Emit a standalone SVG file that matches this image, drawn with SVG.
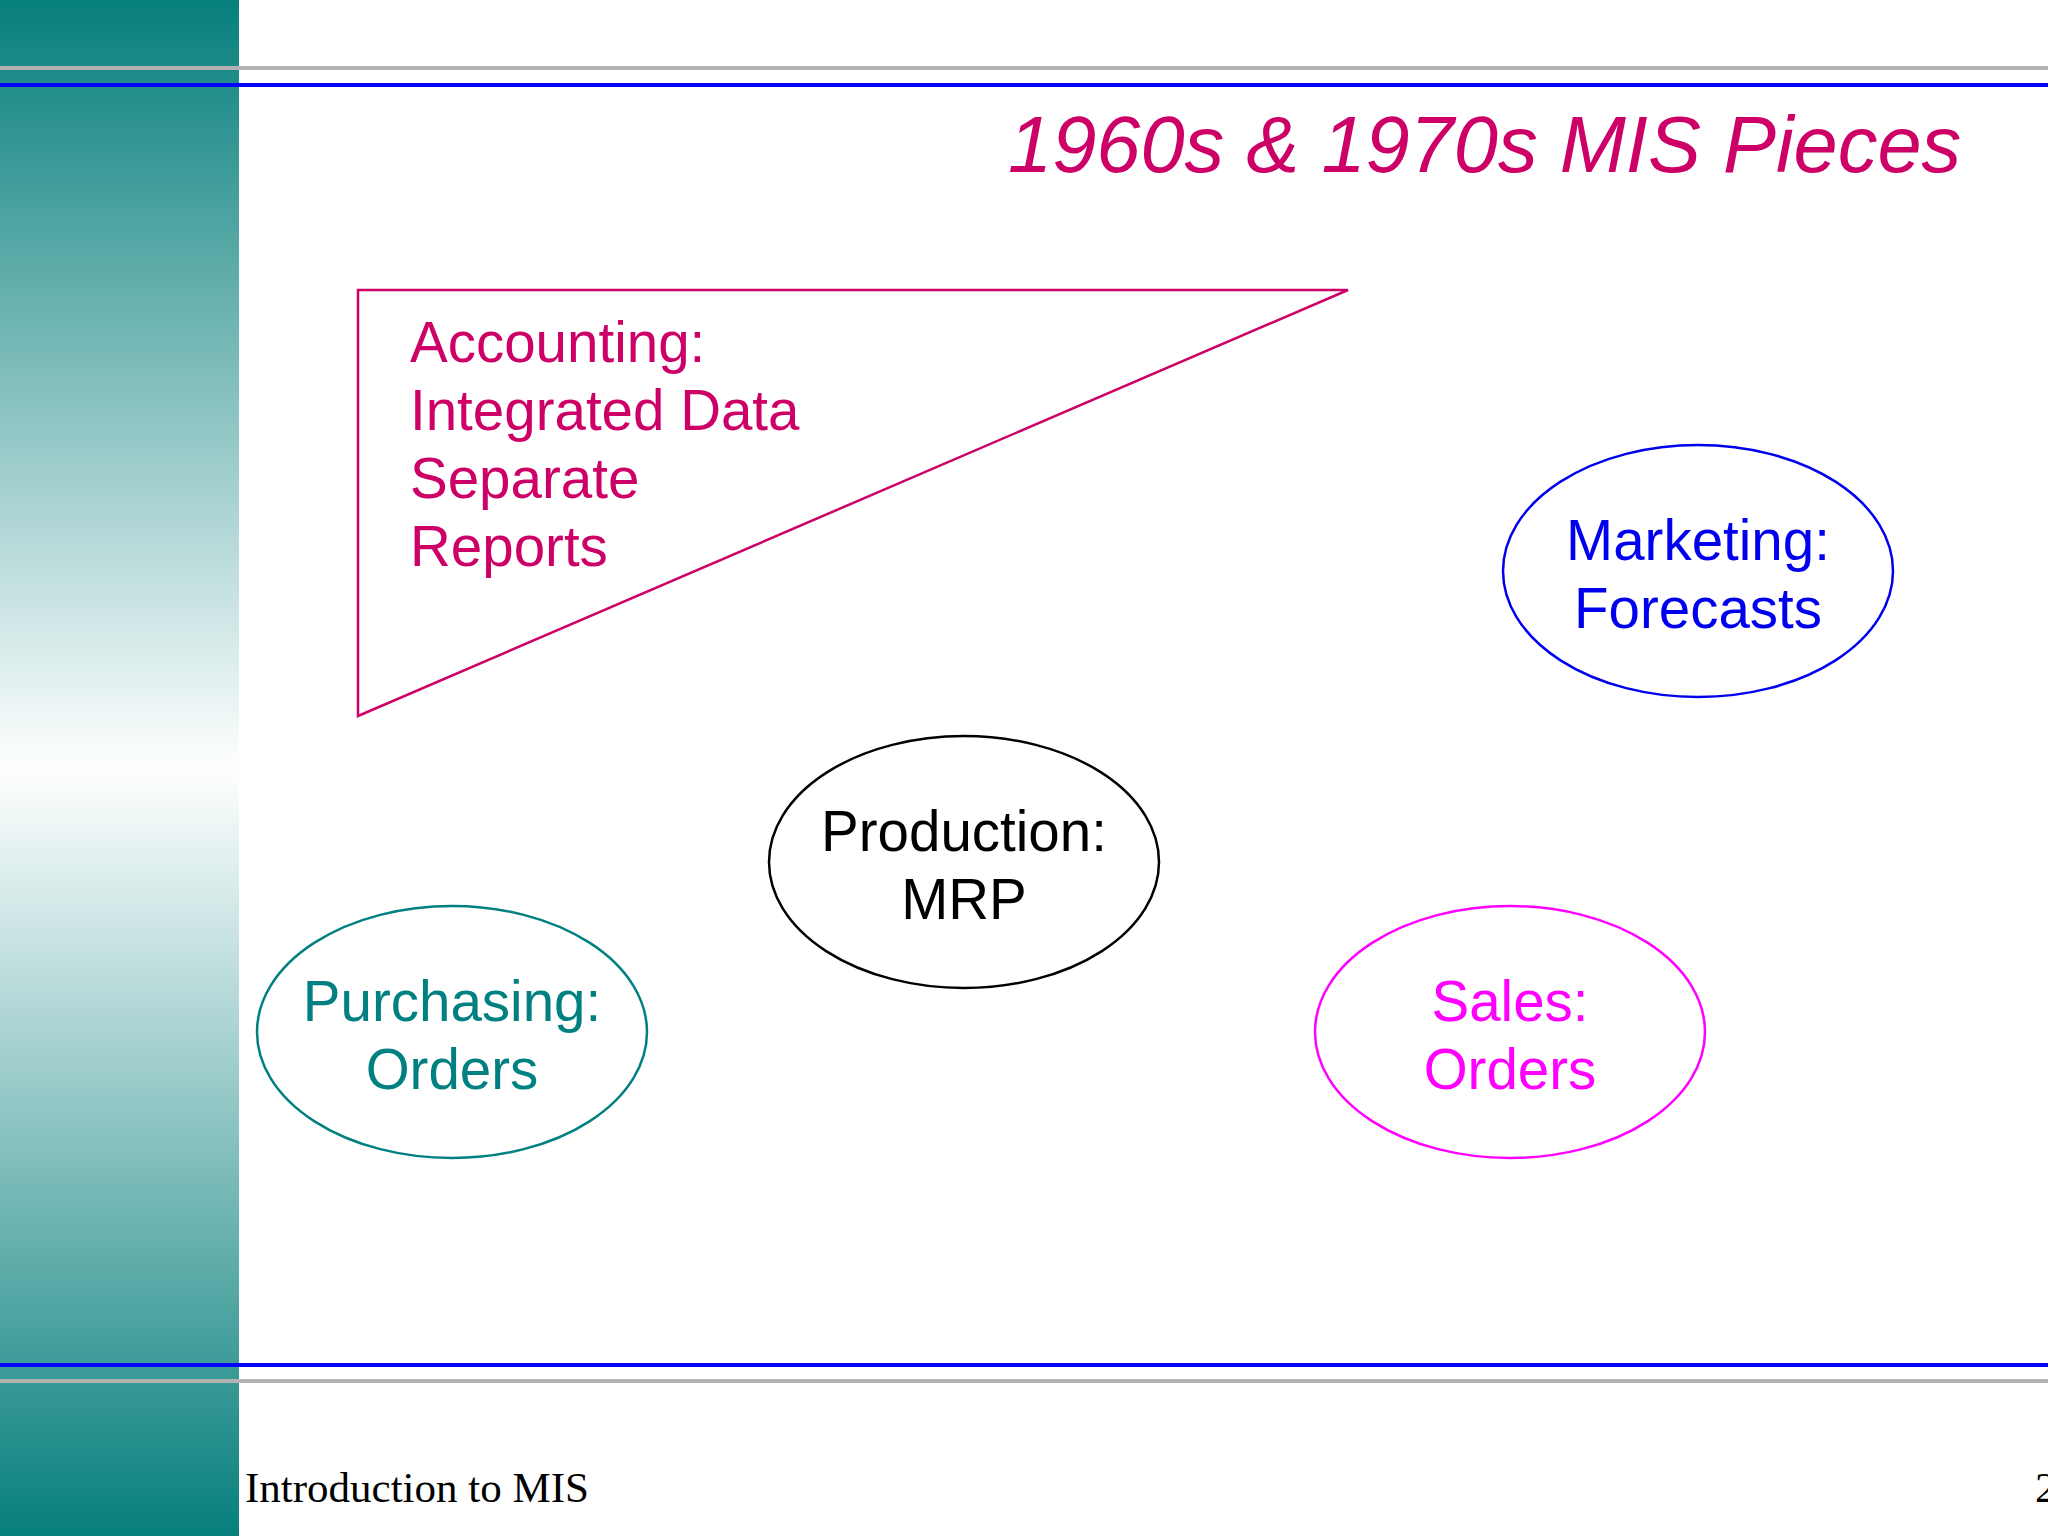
<svg xmlns="http://www.w3.org/2000/svg" width="2048" height="1536" viewBox="0 0 2048 1536">
<defs>
<linearGradient id="bar" x1="0" y1="0" x2="0" y2="1">
<stop offset="0" stop-color="#067f7c"/>
<stop offset="0.5" stop-color="#ffffff"/>
<stop offset="1" stop-color="#067f7c"/>
</linearGradient>
</defs>
<style>
.lbl{font-family:"Liberation Sans",Arial,sans-serif;font-size:56.5px;}
.c{text-anchor:middle;}
.ell{fill:none;stroke-width:2.5;}
</style>
<rect width="2048" height="1536" fill="#ffffff"/>
<rect x="0" y="0" width="239" height="1536" fill="url(#bar)"/>
<g id="rules">
<rect x="0" y="66" width="2048" height="4" fill="#b2b2b2"/>
<rect x="0" y="83" width="2048" height="4" fill="#0000ff"/>
<rect x="0" y="1363" width="2048" height="4" fill="#0000ff"/>
<rect x="0" y="1379" width="2048" height="4" fill="#b2b2b2"/>
</g>
<text id="title" x="1008" y="172" font-family="'Liberation Sans',Arial,sans-serif" font-style="italic" font-size="79.4" fill="#cc0066">1960s &amp; 1970s MIS Pieces</text>
<g id="accounting">
<polygon points="358,290 1348,290 358,716" fill="none" stroke="#cc0066" stroke-width="2.5"/>
<text class="lbl" fill="#cc0066"><tspan x="410" y="362">Accounting:</tspan><tspan x="410" y="430">Integrated Data</tspan><tspan x="410" y="498">Separate</tspan><tspan x="410" y="566">Reports</tspan></text>
</g>
<g id="marketing">
<ellipse class="ell" cx="1698" cy="571" rx="195" ry="126" stroke="#0000ee"/>
<text class="lbl c" fill="#0000ee"><tspan x="1698" y="560">Marketing:</tspan><tspan x="1698" y="628">Forecasts</tspan></text>
</g>
<g id="production">
<ellipse class="ell" cx="964" cy="862" rx="195" ry="126" stroke="#000000"/>
<text class="lbl c" fill="#000000"><tspan x="964" y="851">Production:</tspan><tspan x="964" y="919">MRP</tspan></text>
</g>
<g id="purchasing">
<ellipse class="ell" cx="452" cy="1032" rx="195" ry="126" stroke="#008080"/>
<text class="lbl c" fill="#008080"><tspan x="452" y="1021">Purchasing:</tspan><tspan x="452" y="1089">Orders</tspan></text>
</g>
<g id="sales">
<ellipse class="ell" cx="1510" cy="1032" rx="195" ry="126" stroke="#ff00ff"/>
<text class="lbl c" fill="#ff00ff"><tspan x="1510" y="1021">Sales:</tspan><tspan x="1510" y="1089">Orders</tspan></text>
</g>
<g id="connectors"></g>
<text id="footer" x="245" y="1502" font-family="'Liberation Serif','Times New Roman',serif" font-size="43" fill="#000000">Introduction to MIS</text>
<text id="page" x="2035" y="1502" font-family="'Liberation Serif','Times New Roman',serif" font-size="43" fill="#000000">2</text>
</svg>
